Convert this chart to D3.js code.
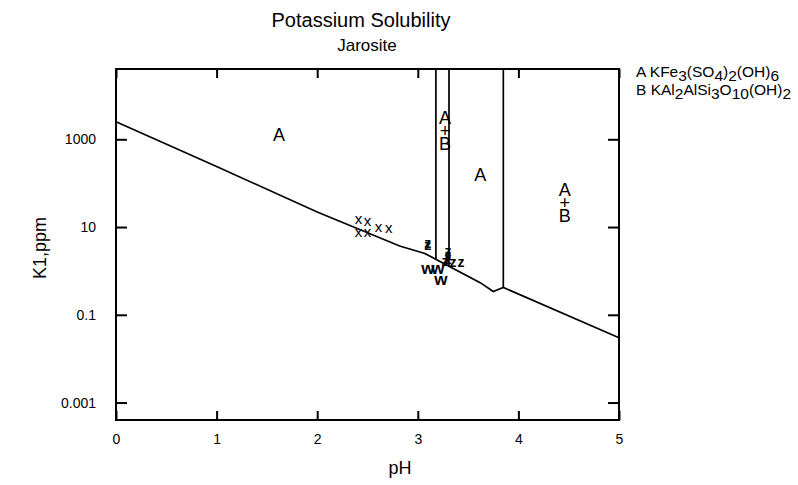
<!DOCTYPE html>
<html><head><meta charset="utf-8">
<script src="https://cdn.jsdelivr.net/npm/d3@7"></script>
<style>body{margin:0;background:#fff}svg{display:block}text{font-family:"Liberation Sans",Arial,sans-serif;fill:#000}</style>
</head><body><svg id="c" width="798" height="485"></svg>
<script>
// ---- data ----
const xTicks = [0, 1, 2, 3, 4, 5];
const yTicks = [0.001, 0.1, 10, 1000];
const yTickLabels = ["0.001", "0.1", "10", "1000"];
const curvePH = [0, 1, 2, 2.82, 3.07, 3.62, 3.75, 3.85, 5];
const curveK = [2500, 240, 22, 3.7, 2.5, 0.54, 0.34, 0.42, 0.030];
const boundaryPH = [3.18, 3.31, 3.85];
const fieldText = ["A", "A"];
const fieldPH = [1.62, 3.62];
const fieldK = [1260, 155];
const mixPH = [3.27, 4.46];
const mixK = [1560, 35.6];
const xMarkPH = [2.41, 2.50, 2.61, 2.71, 2.41, 2.50];
const xMarkK = [14.8, 13.2, 9.6, 9.1, 7.4, 7.4];
const zMarkPH = [3.10, 3.10, 3.30, 3.30, 3.30, 3.27, 3.35, 3.43];
const zMarkK = [4.2, 3.75, 2.74, 2.22, 1.80, 1.62, 1.54, 1.54];
const wMarkPH = [3.10, 3.20, 3.23];
const wMarkK = [1.12, 1.12, 0.63];

const svg = d3.select("#c");
const L = 116, R = 619, T = 69, B = 420;
const x = d3.scaleLinear().domain([0, 5]).range([L, R]);
const y = d3.scaleLog().domain([4e-4, 4e4]).range([B, T]);

// titles
svg.append("text").attr("x", 361).attr("y", 27).attr("text-anchor", "middle").attr("font-size", 20).text("Potassium Solubility");
svg.append("text").attr("x", 367).attr("y", 51).attr("text-anchor", "middle").attr("font-size", 17).text("Jarosite");

// axes
const ax = (g, gen) => { g.call(gen); g.select(".domain").remove(); g.selectAll("line").attr("stroke", "#000").attr("stroke-width", 2); g.selectAll("text").attr("font-size", 14).style("font-family", "Liberation Sans, Arial, sans-serif"); };
svg.append("g").attr("transform", `translate(0,${B})`).call(g => ax(g, d3.axisBottom(x).tickValues(xTicks).tickSize(-9).tickPadding(14).tickFormat(d3.format("d"))));
svg.append("g").attr("transform", `translate(0,${T})`).call(g => { ax(g, d3.axisTop(x).tickValues(xTicks).tickSize(-9).tickFormat("")); });
svg.append("g").attr("transform", `translate(${L},0)`).call(g => ax(g, d3.axisLeft(y).tickValues(yTicks).tickSize(-11).tickPadding(20).tickFormat((d, i) => yTickLabels[i])));
svg.append("g").attr("transform", `translate(${R},0)`).call(g => ax(g, d3.axisRight(y).tickValues(yTicks).tickSize(-11).tickFormat("")));
svg.append("rect").attr("x", L).attr("y", T).attr("width", R - L).attr("height", B - T).attr("fill", "none").attr("stroke", "#000").attr("stroke-width", 2);

svg.append("text").attr("x", 400).attr("y", 474).attr("text-anchor", "middle").attr("font-size", 18).text("pH");
svg.append("text").attr("transform", "translate(46,248) rotate(-90)").attr("text-anchor", "middle").attr("font-size", 18).text("K1,ppm");

// curve
const pts = curvePH.map((p, i) => [p, curveK[i]]);
svg.append("path").datum(pts).attr("fill", "none").attr("stroke", "#000").attr("stroke-width", 1.7)
  .attr("d", d3.line().x(d => x(d[0])).y(d => y(d[1])));
const logInterp = p => { for (let i = 0; i < curvePH.length - 1; i++) { if (p >= curvePH[i] && p <= curvePH[i + 1]) { const t = (p - curvePH[i]) / (curvePH[i + 1] - curvePH[i]); return Math.pow(10, Math.log10(curveK[i]) * (1 - t) + Math.log10(curveK[i + 1]) * t); } } return curveK[curveK.length - 1]; };
boundaryPH.forEach(p => {
  svg.append("line").attr("x1", x(p)).attr("x2", x(p)).attr("y1", T).attr("y2", y(logInterp(p))).attr("stroke", "#000").attr("stroke-width", 1.7);
});

// field labels
fieldText.forEach((t, i) => svg.append("text").attr("x", x(fieldPH[i])).attr("y", y(fieldK[i])).attr("dy", "0.35em").attr("text-anchor", "middle").attr("font-size", 18).text(t));
mixPH.forEach((p, i) => {
  const cx = x(p), cy = y(mixK[i]);
  svg.append("text").attr("x", cx).attr("y", cy - 13).attr("dy", "0.35em").attr("text-anchor", "middle").attr("font-size", 18).text("A");
  svg.append("text").attr("x", cx).attr("y", cy).attr("dy", "0.35em").attr("text-anchor", "middle").attr("font-size", 18).text("+");
  svg.append("text").attr("x", cx).attr("y", cy + 13).attr("dy", "0.35em").attr("text-anchor", "middle").attr("font-size", 18).text("B");
});

// markers
const mark = (ph, k, ch, fs, fw) => ph.forEach((p, i) => svg.append("text").attr("x", x(p)).attr("y", y(k[i])).attr("dy", "0.3em").attr("text-anchor", "middle").attr("font-size", fs).attr("font-weight", fw).text(ch));
mark(xMarkPH, xMarkK, "x", 15, "normal");
mark(zMarkPH, zMarkK, "z", 14, "bold");
mark(wMarkPH, wMarkK, "w", 17, "bold");

// legend
const legendLines = [
  [["A KFe", 0], ["3", 1], ["(SO", 0], ["4", 1], [")", 0], ["2", 1], ["(OH)", 0], ["6", 1]],
  [["B KAl", 0], ["2", 1], ["AlSi", 0], ["3", 1], ["O", 0], ["10", 1], ["(OH)", 0], ["2", 1]]
];
legendLines.forEach((parts, li) => {
  const t = svg.append("text").attr("x", 636).attr("y", 77 + li * 18).attr("font-size", 15.5);
  let prev = 0;
  parts.forEach(([s, sub]) => { t.append("tspan").attr("dy", (sub - prev) * 4).text(s); prev = sub; });
});
</script></body></html>
